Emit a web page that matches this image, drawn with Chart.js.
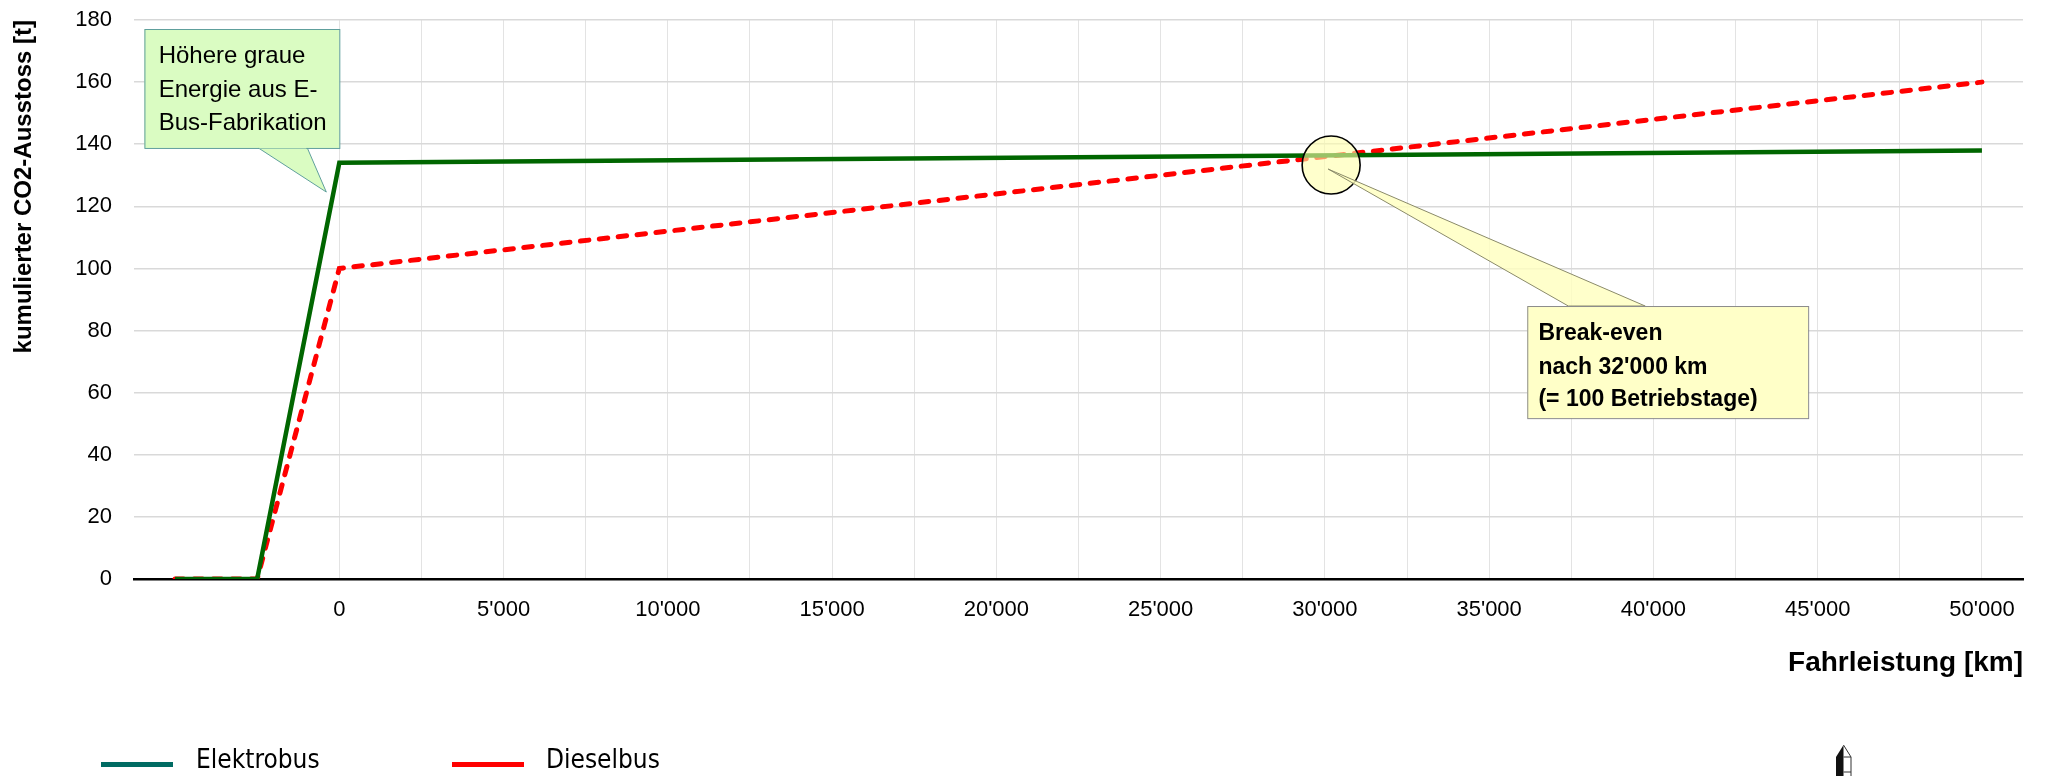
<!DOCTYPE html>
<html><head><meta charset="utf-8">
<script src="https://cdn.jsdelivr.net/npm/chart.js@4.4.1/dist/chart.umd.min.js"></script>
<style>html,body{margin:0;padding:0;background:#fff;} canvas{display:block;}</style>
</head><body>
<canvas id="c" width="2045" height="776"></canvas>
<script>
// ---- data ----
const kmValues = [-5000, -2500, 0, 50000];
const elektrobusValues = [0, 0, 134, 138];
const dieselbusValues = [0, 0, 100, 160];
const seriesNames = ['Elektrobus', 'Dieselbus'];
const xTickValues = [0, 2500, 5000, 7500, 10000, 12500, 15000, 17500, 20000, 22500, 25000, 27500, 30000, 32500, 35000, 37500, 40000, 42500, 45000, 47500, 50000];
const xLabelStep = 5000;
const yTickValues = [0, 20, 40, 60, 80, 100, 120, 140, 160, 180];
const yAxisTitle = 'kumulierter CO2-Ausstoss [t]';
const xAxisTitle = 'Fahrleistung [km]';
const greenNoteLines = ['Höhere graue', 'Energie aus E-', 'Bus-Fabrikation'];
const yellowNoteLines = ['Break-even', "nach 32'000 km", '(= 100 Betriebstage)'];

// ---- styles / annotation anchors (data space) ----
const lineColors = ['#006600', '#ff0000'];
const legendColors = ['#006b63', '#ff0000'];
const FONT = "'Liberation Sans', Arial, sans-serif";
const noteGreen = {x0: -5933, x1: 0, y0: 177.1, y1: 138.8,
  wedge: [[-2465, 138.8], [-974, 138.8], [-396, 124.6]],
  textX: -5500, baselines: [166.2, 155.2, 144.6]};
const noteYellow = {x0: 36160, x1: 44710, y0: 87.9, y1: 51.8,
  wedge: [[37410, 87.9], [39750, 87.9], [30100, 132.0]],
  textX: 36500, baselines: [77.0, 66.1, 55.6],
  circle: [30190, 133.3]};

function fmtKm(v) {
  return String(v).replace(/\B(?=(\d{3})+(?!\d))/g, "'");
}

const annotationPlugin = {
  id: 'notes',
  afterDatasetsDraw(chart) {
    const ctx = chart.ctx, xs = chart.scales.x, ys = chart.scales.y;
    const X = v => xs.getPixelForValue(v), Y = v => ys.getPixelForValue(v);
    ctx.save();
    const g = noteGreen;
    ctx.beginPath();
    ctx.moveTo(X(g.wedge[0][0]), Y(g.wedge[0][1]));
    ctx.lineTo(X(g.wedge[2][0]), Y(g.wedge[2][1]));
    ctx.lineTo(X(g.wedge[1][0]), Y(g.wedge[1][1]));
    ctx.closePath();
    ctx.fillStyle = '#dafcc2'; ctx.fill();
    ctx.strokeStyle = '#5f9f9c'; ctx.lineWidth = 1; ctx.stroke();
    ctx.fillStyle = '#dafcc2';
    ctx.fillRect(X(g.x0), Y(g.y0), X(g.x1) - X(g.x0), Y(g.y1) - Y(g.y0));
    ctx.strokeRect(X(g.x0) + 0.5, Y(g.y0) + 0.5, X(g.x1) - X(g.x0), Y(g.y1) - Y(g.y0));
    ctx.fillRect(X(g.wedge[0][0]) + 1, Y(g.y1) - 1, X(g.wedge[1][0]) - X(g.wedge[0][0]) - 2, 1.5);
    ctx.fillStyle = '#000';
    ctx.font = '24px ' + FONT;
    ctx.textBaseline = 'alphabetic'; ctx.textAlign = 'left';
    greenNoteLines.forEach((t, i) => ctx.fillText(t, X(g.textX), Y(g.baselines[i])));

    const yb = noteYellow;
    ctx.beginPath();
    ctx.arc(X(yb.circle[0]), Y(yb.circle[1]), 29, 0, Math.PI * 2);
    ctx.fillStyle = 'rgba(255,255,170,0.6)'; ctx.fill();
    ctx.strokeStyle = '#000'; ctx.lineWidth = 1.6; ctx.stroke();
    ctx.beginPath();
    ctx.moveTo(X(yb.wedge[0][0]), Y(yb.wedge[0][1]));
    ctx.lineTo(X(yb.wedge[2][0]), Y(yb.wedge[2][1]));
    ctx.lineTo(X(yb.wedge[1][0]), Y(yb.wedge[1][1]));
    ctx.closePath();
    ctx.fillStyle = 'rgba(255,255,190,0.8)'; ctx.fill();
    ctx.strokeStyle = '#8a8a6a'; ctx.lineWidth = 1; ctx.stroke();
    ctx.fillStyle = '#ffffc8';
    ctx.fillRect(X(yb.x0), Y(yb.y0), X(yb.x1) - X(yb.x0), Y(yb.y1) - Y(yb.y0));
    ctx.strokeStyle = '#8c8c8c';
    ctx.strokeRect(X(yb.x0) + 0.5, Y(yb.y0) + 0.5, X(yb.x1) - X(yb.x0), Y(yb.y1) - Y(yb.y0));
    ctx.fillStyle = '#000';
    ctx.font = 'bold 23px ' + FONT;
    yellowNoteLines.forEach((t, i) => ctx.fillText(t, X(yb.textX), Y(yb.baselines[i])));
    ctx.restore();
  },
  afterDraw(chart) {
    const ctx = chart.ctx;
    ctx.save();
    const items = [{lx: 101, tx: 196}, {lx: 452, tx: 546}];
    ctx.font = "26px 'Liberation Sans Narrow', 'DejaVu Sans Condensed', " + FONT;
    ctx.textBaseline = 'middle'; ctx.textAlign = 'left';
    items.forEach((it, i) => {
      ctx.fillStyle = legendColors[i];
      ctx.fillRect(it.lx, 762, 72, 5);
      ctx.fillStyle = '#000';
      ctx.fillText(seriesNames[i], it.tx, 761);
    });
    ctx.beginPath();
    ctx.moveTo(1843.5, 745); ctx.lineTo(1836, 757); ctx.lineTo(1836, 776);
    ctx.lineTo(1843.5, 776); ctx.closePath();
    ctx.fillStyle = '#111'; ctx.fill();
    ctx.beginPath();
    ctx.moveTo(1843.5, 745); ctx.lineTo(1851, 757); ctx.lineTo(1851, 776);
    ctx.moveTo(1843.5, 757); ctx.lineTo(1851, 757);
    ctx.moveTo(1843.5, 772); ctx.lineTo(1851, 772);
    ctx.strokeStyle = '#333'; ctx.lineWidth = 1; ctx.stroke();
    ctx.restore();
  }
};

const chart = new Chart(document.getElementById('c'), {
  type: 'line',
  data: {
    datasets: [
      {label: seriesNames[0], data: kmValues.map((x, i) => ({x, y: elektrobusValues[i]})),
       borderColor: lineColors[0], backgroundColor: legendColors[0], borderWidth: 4.5,
       pointRadius: 0, tension: 0, borderJoinStyle: 'miter'},
      {label: seriesNames[1], data: kmValues.map((x, i) => ({x, y: dieselbusValues[i]})),
       borderColor: lineColors[1], backgroundColor: legendColors[1], borderWidth: 5,
       borderDash: [8.5, 10.5], borderCapStyle: 'round', pointRadius: 0, tension: 0}
    ]
  },
  options: {
    responsive: false, animation: false, devicePixelRatio: 1,
    layout: {padding: {left: 0, right: 22, top: 20, bottom: 87}},
    plugins: {legend: {display: false}, tooltip: {enabled: false}},
    scales: {
      x: {
        type: 'linear', min: -6250, max: 51250,
        afterBuildTicks: s => { s.ticks = xTickValues.map(v => ({value: v})); },
        afterFit: s => { s.height = 110; s.paddingLeft = 0; s.paddingRight = 0; },
        ticks: {autoSkip: false, maxRotation: 0, padding: 18, color: '#000',
          font: {family: FONT, size: 22},
          callback: v => (v % xLabelStep === 0 ? fmtKm(v) : '')},
        grid: {color: ctx => (ctx.tick && ctx.tick.value < 0 ? 'rgba(0,0,0,0)' : '#e3e3e3'),
          lineWidth: 1, drawTicks: false},
        border: {display: true, color: '#000', width: 2.5},
        title: {display: true, text: xAxisTitle, align: 'end', color: '#000',
          font: {family: FONT, size: 28, weight: 'bold'}, padding: {top: 0, bottom: 9}}
      },
      y: {
        min: 0, max: 180,
        afterBuildTicks: s => { s.ticks = yTickValues.map(v => ({value: v})); },
        afterFit: s => { s.width = 134; s.paddingTop = 0; s.paddingBottom = 0; },
        ticks: {padding: 22, color: '#000', font: {family: FONT, size: 22}},
        grid: {color: '#d9d9d9', lineWidth: 1.5, drawTicks: false},
        border: {display: false},
        title: {display: true, text: yAxisTitle, align: 'end', color: '#000',
          font: {family: FONT, size: 24, weight: 'bold'}, padding: {top: 10, bottom: 0}}
      }
    }
  },
  plugins: [annotationPlugin]
});
</script>
</body></html>
